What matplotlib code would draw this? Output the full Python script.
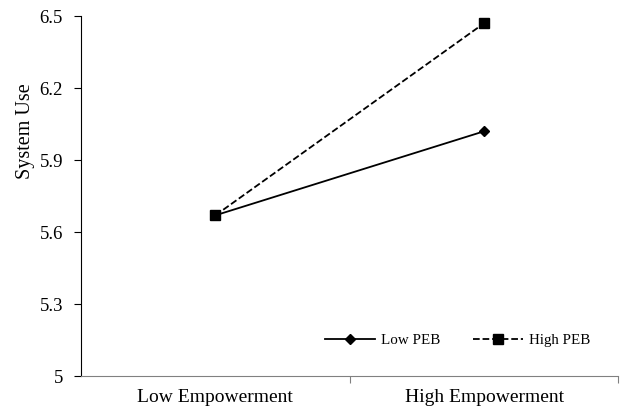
import matplotlib
matplotlib.use("Agg")
from matplotlib import pyplot as plt

categories = ["Low Empowerment", "High Empowerment"]
low_peb = [5.67, 6.02]
high_peb = [5.67, 6.47]
yticks = [5.0, 5.3, 5.6, 5.9, 6.2, 6.5]
ytick_labels = ["5", "5.3", "5.6", "5.9", "6.2", "6.5"]

plt.rcParams['font.family'] = ['Liberation Serif', 'DejaVu Serif']

fig = plt.figure(figsize=(6.24, 4.12), dpi=100)
ax = fig.add_axes([0.13, 0.087, 0.861, 0.874])

xpos = [i + 0.5 for i in range(len(categories))]
ax.plot(xpos, low_peb, color='black', linestyle='-', linewidth=1.3,
        marker='D', markersize=5, label='Low PEB')
ax.plot(xpos, high_peb, color='black', linestyle='--', linewidth=1.3,
        marker='s', markersize=6.5, label='High PEB')

ax.set_xlim(0, len(categories))
ax.set_ylim(5.0, 6.5)
ax.set_yticks(yticks)
ax.set_yticklabels(ytick_labels, fontsize=13.5)
ax.set_ylabel("System Use", fontsize=14.5)
ax.yaxis.set_label_coords(-0.086, 0.68)

ax.set_xticks([1, 2])
ax.set_xticklabels([])
ax.set_xticks(xpos, minor=True)
ax.set_xticklabels(categories, minor=True, fontsize=14)
ax.tick_params(axis='x', which='major', length=5, direction='out', color='#808080')
ax.tick_params(axis='x', which='minor', length=0, pad=9)
ax.tick_params(axis='y', length=5, direction='out', pad=8)

ax.spines['top'].set_visible(False)
ax.spines['right'].set_visible(False)
ax.spines['bottom'].set_color('#808080')

ax.legend(loc='center', bbox_to_anchor=(0.701, 0.1), ncol=2, frameon=False,
          fontsize=10.8, handlelength=3.3, columnspacing=2.2, handletextpad=0.4,
          borderpad=0)

fig.savefig('out.png', dpi=100)
